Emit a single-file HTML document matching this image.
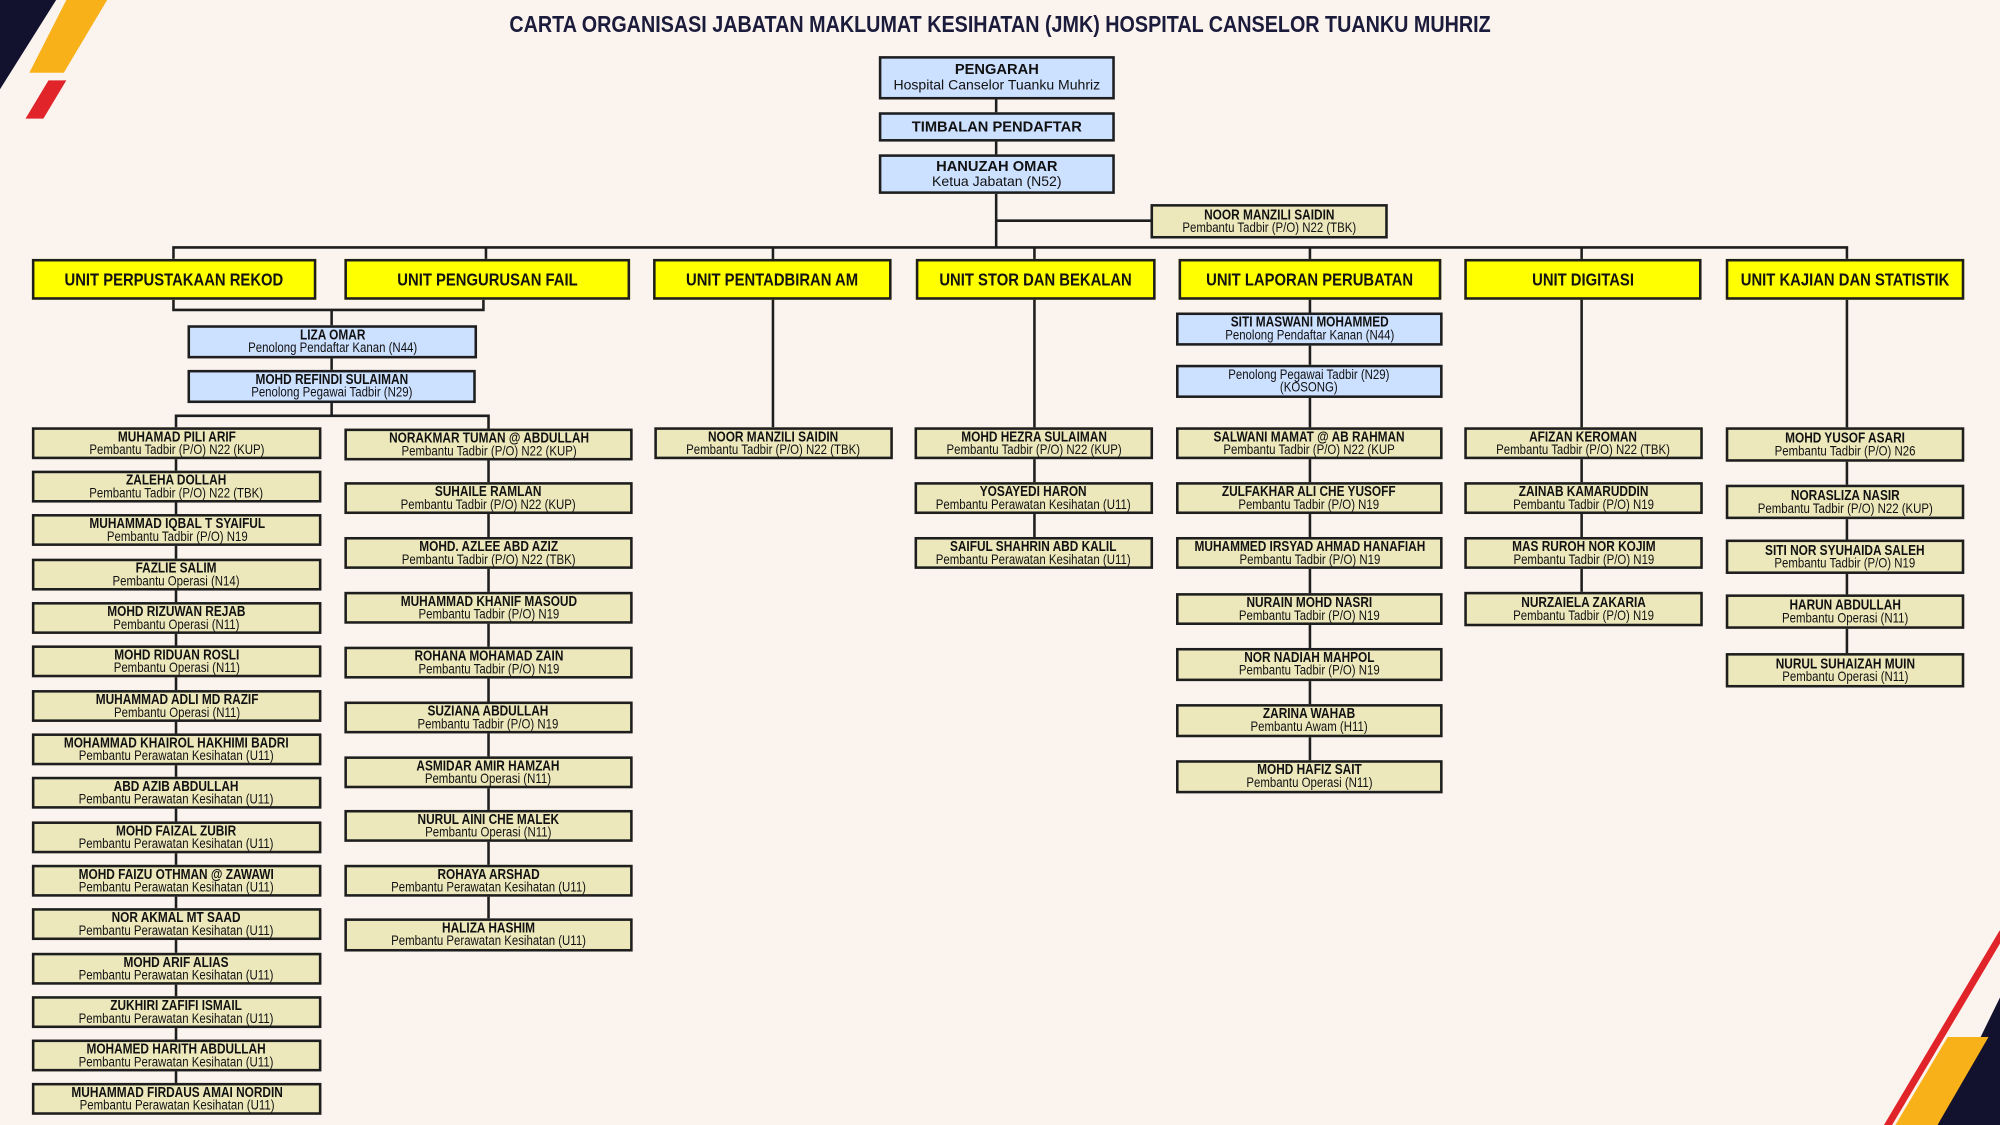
<!DOCTYPE html>
<html><head><meta charset="utf-8"><style>
html,body{margin:0;padding:0;}
body{width:2000px;height:1125px;overflow:hidden;background:#fbf3ee;position:relative;}
#w{position:absolute;left:0;top:0;width:1568px;height:882px;transform:scale(1.27551);transform-origin:0 0;}
.b{position:absolute;box-sizing:border-box;border:2px solid #1e1e1e;background:#ece8bc;display:flex;flex-direction:column;align-items:center;justify-content:center;font-family:"Liberation Sans Narrow","Liberation Sans",sans-serif;font-size:10.8px;line-height:10px;color:#111;white-space:nowrap;}
.i{display:flex;flex-direction:column;align-items:center;transform:scaleX(.83);flex:none;}
.b b{font-size:11.2px;display:block;}
.bl{background:#cce0ff;}
.u{background:#ffff00;font-weight:bold;font-size:14px;}
.t{font-family:"Liberation Sans",sans-serif;font-size:11px;line-height:12px;}
.t b{font-size:11.5px;}
#title{position:absolute;left:0;width:1568px;top:9px;text-align:center;font-family:"Liberation Sans",sans-serif;font-weight:bold;font-size:18px;color:#1b1b3b;transform:scaleX(.86);}
svg{position:absolute;left:0;top:0;}
</style></head><body><div id="w">
<svg width="1568" height="882">
<polygon points="0,0 44,0 0,70" fill="#12122e"/>
<polygon points="52,0 84,0 50,57 23,57" fill="#f9b11a"/>
<polygon points="38,63 52,63 34,93 20,93" fill="#e0242a"/>
<polygon points="1568,782 1519,882 1568,882" fill="#12122e"/>
<polygon points="1527,813 1559,813 1519,882 1486,882" fill="#f9b11a"/>
<line x1="1570" y1="731" x2="1479" y2="884" stroke="#e0242a" stroke-width="5.5"/>
<g stroke="#1e1e1e" stroke-width="2" fill="none">
<line x1="781" y1="78" x2="781" y2="194"/>
<line x1="781" y1="173" x2="902" y2="173"/>
<polyline points="136,203 136,194 1448,194 1448,203"/>
<line x1="381" y1="194" x2="381" y2="203"/>
<line x1="606" y1="194" x2="606" y2="335"/>
<line x1="811" y1="194" x2="811" y2="440"/>
<line x1="1027" y1="194" x2="1027" y2="600"/>
<line x1="1240" y1="194" x2="1240" y2="470"/>
<polyline points="136,235 136,243 379,243 379,235"/>
<line x1="260" y1="243" x2="260" y2="326"/>
<polyline points="138,335 138,326 383,326 383,720"/>
<line x1="138" y1="335" x2="138" y2="850"/>
<line x1="1448" y1="235" x2="1448" y2="515"/>
</g>
</svg>
<div id="title">CARTA ORGANISASI JABATAN MAKLUMAT KESIHATAN (JMK) HOSPITAL CANSELOR TUANKU MUHRIZ</div>

<div class="b bl t" style="left:689px;top:44px;width:185px;height:34px"><b>PENGARAH</b>Hospital Canselor Tuanku Muhriz</div>
<div class="b bl t" style="left:689px;top:88px;width:185px;height:23px"><b>TIMBALAN PENDAFTAR</b></div>
<div class="b bl t" style="left:689px;top:121px;width:185px;height:31px"><b>HANUZAH OMAR</b>Ketua Jabatan (N52)</div>
<div class="b" style="left:902px;top:160px;width:186px;height:27px"><div class="i"><b>NOOR MANZILI SAIDIN</b>Pembantu Tadbir (P/O) N22 (TBK)</div></div>

<div class="b u" style="left:25px;top:203px;width:223px;height:32px"><div class="i">UNIT PERPUSTAKAAN REKOD</div></div>
<div class="b u" style="left:270px;top:203px;width:224px;height:32px"><div class="i">UNIT PENGURUSAN FAIL</div></div>
<div class="b u" style="left:512px;top:203px;width:187px;height:32px"><div class="i">UNIT PENTADBIRAN AM</div></div>
<div class="b u" style="left:718px;top:203px;width:188px;height:32px"><div class="i">UNIT STOR DAN BEKALAN</div></div>
<div class="b u" style="left:924px;top:203px;width:206px;height:32px"><div class="i">UNIT LAPORAN PERUBATAN</div></div>
<div class="b u" style="left:1148px;top:203px;width:186px;height:32px"><div class="i">UNIT DIGITASI</div></div>
<div class="b u" style="left:1353px;top:203px;width:187px;height:32px"><div class="i">UNIT KAJIAN DAN STATISTIK</div></div>

<div class="b bl" style="left:147px;top:255px;width:227px;height:26px"><div class="i"><b>LIZA OMAR</b>Penolong Pendaftar Kanan (N44)</div></div>
<div class="b bl" style="left:147px;top:290px;width:226px;height:26px"><div class="i"><b>MOHD REFINDI SULAIMAN</b>Penolong Pegawai Tadbir (N29)</div></div>

<div class="b" style="left:25px;top:335px;width:227px;height:25px"><div class="i"><b>MUHAMAD PILI ARIF</b>Pembantu Tadbir (P/O) N22 (KUP)</div></div>
<div class="b" style="left:25px;top:369px;width:227px;height:25px"><div class="i"><b>ZALEHA DOLLAH</b>Pembantu Tadbir (P/O) N22 (TBK)</div></div>
<div class="b" style="left:25px;top:403px;width:227px;height:25px"><div class="i"><b>MUHAMMAD IQBAL T SYAIFUL</b>Pembantu Tadbir (P/O) N19</div></div>
<div class="b" style="left:25px;top:438px;width:227px;height:25px"><div class="i"><b>FAZLIE SALIM</b>Pembantu Operasi (N14)</div></div>
<div class="b" style="left:25px;top:472px;width:227px;height:25px"><div class="i"><b>MOHD RIZUWAN REJAB</b>Pembantu Operasi (N11)</div></div>
<div class="b" style="left:25px;top:506px;width:227px;height:25px"><div class="i"><b>MOHD RIDUAN ROSLI</b>Pembantu Operasi (N11)</div></div>
<div class="b" style="left:25px;top:541px;width:227px;height:25px"><div class="i"><b>MUHAMMAD ADLI MD RAZIF</b>Pembantu Operasi (N11)</div></div>
<div class="b" style="left:25px;top:575px;width:227px;height:25px"><div class="i"><b>MOHAMMAD KHAIROL HAKHIMI BADRI</b>Pembantu Perawatan Kesihatan (U11)</div></div>
<div class="b" style="left:25px;top:609px;width:227px;height:25px"><div class="i"><b>ABD AZIB ABDULLAH</b>Pembantu Perawatan Kesihatan (U11)</div></div>
<div class="b" style="left:25px;top:644px;width:227px;height:25px"><div class="i"><b>MOHD FAIZAL ZUBIR</b>Pembantu Perawatan Kesihatan (U11)</div></div>
<div class="b" style="left:25px;top:678px;width:227px;height:25px"><div class="i"><b>MOHD FAIZU OTHMAN @ ZAWAWI</b>Pembantu Perawatan Kesihatan (U11)</div></div>
<div class="b" style="left:25px;top:712px;width:227px;height:25px"><div class="i"><b>NOR AKMAL MT SAAD</b>Pembantu Perawatan Kesihatan (U11)</div></div>
<div class="b" style="left:25px;top:747px;width:227px;height:25px"><div class="i"><b>MOHD ARIF ALIAS</b>Pembantu Perawatan Kesihatan (U11)</div></div>
<div class="b" style="left:25px;top:781px;width:227px;height:25px"><div class="i"><b>ZUKHIRI ZAFIFI ISMAIL</b>Pembantu Perawatan Kesihatan (U11)</div></div>
<div class="b" style="left:25px;top:815px;width:227px;height:25px"><div class="i"><b>MOHAMED HARITH ABDULLAH</b>Pembantu Perawatan Kesihatan (U11)</div></div>
<div class="b" style="left:25px;top:849px;width:227px;height:25px"><div class="i"><b>MUHAMMAD FIRDAUS AMAI NORDIN</b>Pembantu Perawatan Kesihatan (U11)</div></div>

<div class="b" style="left:270px;top:336px;width:226px;height:25px"><div class="i"><b>NORAKMAR TUMAN @ ABDULLAH</b>Pembantu Tadbir (P/O) N22 (KUP)</div></div>
<div class="b" style="left:270px;top:378px;width:226px;height:25px"><div class="i"><b>SUHAILE RAMLAN</b>Pembantu Tadbir (P/O) N22 (KUP)</div></div>
<div class="b" style="left:270px;top:421px;width:226px;height:25px"><div class="i"><b>MOHD. AZLEE ABD AZIZ</b>Pembantu Tadbir (P/O) N22 (TBK)</div></div>
<div class="b" style="left:270px;top:464px;width:226px;height:25px"><div class="i"><b>MUHAMMAD KHANIF MASOUD</b>Pembantu Tadbir (P/O) N19</div></div>
<div class="b" style="left:270px;top:507px;width:226px;height:25px"><div class="i"><b>ROHANA MOHAMAD ZAIN</b>Pembantu Tadbir (P/O) N19</div></div>
<div class="b" style="left:270px;top:550px;width:226px;height:25px"><div class="i"><b>SUZIANA ABDULLAH</b>Pembantu Tadbir (P/O) N19</div></div>
<div class="b" style="left:270px;top:593px;width:226px;height:25px"><div class="i"><b>ASMIDAR AMIR HAMZAH</b>Pembantu Operasi (N11)</div></div>
<div class="b" style="left:270px;top:635px;width:226px;height:25px"><div class="i"><b>NURUL AINI CHE MALEK</b>Pembantu Operasi (N11)</div></div>
<div class="b" style="left:270px;top:678px;width:226px;height:25px"><div class="i"><b>ROHAYA ARSHAD</b>Pembantu Perawatan Kesihatan (U11)</div></div>
<div class="b" style="left:270px;top:720px;width:226px;height:26px"><div class="i"><b>HALIZA HASHIM</b>Pembantu Perawatan Kesihatan (U11)</div></div>

<div class="b" style="left:513px;top:335px;width:187px;height:25px"><div class="i"><b>NOOR MANZILI SAIDIN</b>Pembantu Tadbir (P/O) N22 (TBK)</div></div>

<div class="b" style="left:717px;top:335px;width:187px;height:25px"><div class="i"><b>MOHD HEZRA SULAIMAN</b>Pembantu Tadbir (P/O) N22 (KUP)</div></div>
<div class="b" style="left:717px;top:378px;width:187px;height:25px"><div class="i"><b>YOSAYEDI HARON</b>Pembantu Perawatan Kesihatan (U11)</div></div>
<div class="b" style="left:717px;top:421px;width:187px;height:25px"><div class="i"><b>SAIFUL SHAHRIN ABD KALIL</b>Pembantu Perawatan Kesihatan (U11)</div></div>

<div class="b bl" style="left:922px;top:245px;width:209px;height:26px"><div class="i"><b>SITI MASWANI MOHAMMED</b>Penolong Pendaftar Kanan (N44)</div></div>
<div class="b bl" style="left:922px;top:286px;width:209px;height:26px"><div class="i"><span>Penolong Pegawai Tadbir (N29)</span><span>(KOSONG)</span></div></div>
<div class="b" style="left:922px;top:335px;width:209px;height:25px"><div class="i"><b>SALWANI MAMAT @ AB RAHMAN</b>Pembantu Tadbir (P/O) N22 (KUP</div></div>
<div class="b" style="left:922px;top:378px;width:209px;height:25px"><div class="i"><b>ZULFAKHAR ALI CHE YUSOFF</b>Pembantu Tadbir (P/O) N19</div></div>
<div class="b" style="left:922px;top:421px;width:209px;height:25px"><div class="i"><b>MUHAMMED IRSYAD AHMAD HANAFIAH</b>Pembantu Tadbir (P/O) N19</div></div>
<div class="b" style="left:922px;top:465px;width:209px;height:25px"><div class="i"><b>NURAIN MOHD NASRI</b>Pembantu Tadbir (P/O) N19</div></div>
<div class="b" style="left:922px;top:508px;width:209px;height:26px"><div class="i"><b>NOR NADIAH MAHPOL</b>Pembantu Tadbir (P/O) N19</div></div>
<div class="b" style="left:922px;top:552px;width:209px;height:26px"><div class="i"><b>ZARINA WAHAB</b>Pembantu Awam (H11)</div></div>
<div class="b" style="left:922px;top:596px;width:209px;height:26px"><div class="i"><b>MOHD HAFIZ SAIT</b>Pembantu Operasi (N11)</div></div>

<div class="b" style="left:1148px;top:335px;width:187px;height:25px"><div class="i"><b>AFIZAN KEROMAN</b>Pembantu Tadbir (P/O) N22 (TBK)</div></div>
<div class="b" style="left:1148px;top:378px;width:187px;height:25px"><div class="i"><b>ZAINAB KAMARUDDIN</b>Pembantu Tadbir (P/O) N19</div></div>
<div class="b" style="left:1148px;top:421px;width:187px;height:25px"><div class="i"><b>MAS RUROH NOR KOJIM</b>Pembantu Tadbir (P/O) N19</div></div>
<div class="b" style="left:1148px;top:464px;width:187px;height:27px"><div class="i"><b>NURZAIELA ZAKARIA</b>Pembantu Tadbir (P/O) N19</div></div>

<div class="b" style="left:1353px;top:335px;width:187px;height:27px"><div class="i"><b>MOHD YUSOF ASARI</b>Pembantu Tadbir (P/O) N26</div></div>
<div class="b" style="left:1353px;top:380px;width:187px;height:27px"><div class="i"><b>NORASLIZA NASIR</b>Pembantu Tadbir (P/O) N22 (KUP)</div></div>
<div class="b" style="left:1353px;top:423px;width:187px;height:27px"><div class="i"><b>SITI NOR SYUHAIDA SALEH</b>Pembantu Tadbir (P/O) N19</div></div>
<div class="b" style="left:1353px;top:466px;width:187px;height:27px"><div class="i"><b>HARUN ABDULLAH</b>Pembantu Operasi (N11)</div></div>
<div class="b" style="left:1353px;top:512px;width:187px;height:27px"><div class="i"><b>NURUL SUHAIZAH MUIN</b>Pembantu Operasi (N11)</div></div>
</div></body></html>
